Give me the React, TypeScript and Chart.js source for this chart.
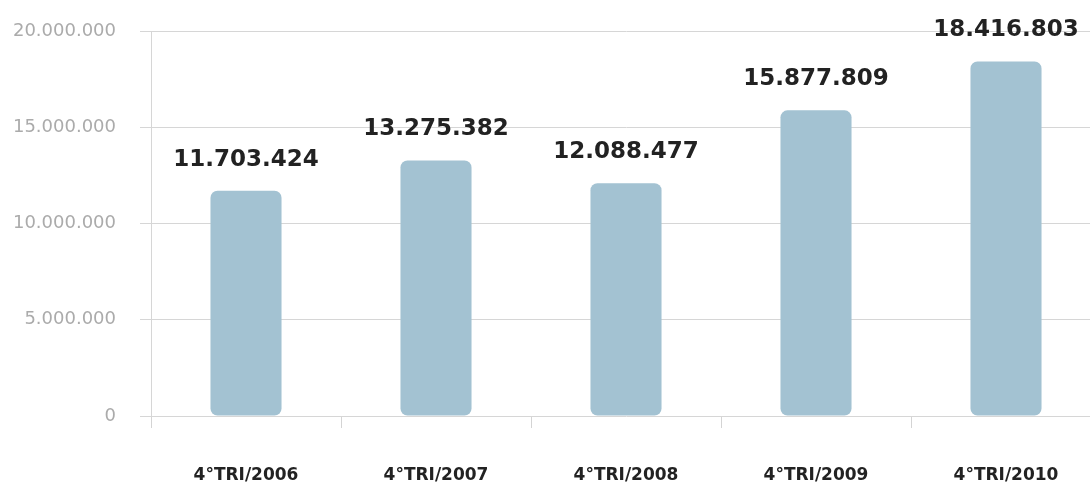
import React, { useEffect, useRef } from 'react';
import { Chart, registerables } from 'chart.js';

Chart.register(...registerables);

const categories = ['4°TRI/2006', '4°TRI/2007', '4°TRI/2008', '4°TRI/2009', '4°TRI/2010'];
const values = [11703424, 13275382, 12088477, 15877809, 18416803];
const yMin = 0;
const yMax = 20000000;
const yStep = 5000000;

const fmt = (v: number) => String(Math.round(v)).replace(/\B(?=(\d{3})+(?!\d))/g, '.');

const valueLabels = {
  id: 'valueLabels',
  afterDatasetsDraw(chart: any) {
    const ctx = chart.ctx;
    const meta = chart.getDatasetMeta(0);
    ctx.save();
    ctx.font = 'bold 23px "DejaVu Sans"';
    ctx.fillStyle = '#222222';
    ctx.textAlign = 'center';
    ctx.textBaseline = 'alphabetic';
    meta.data.forEach((bar: any, i: number) => {
      ctx.fillText(fmt(values[i]), bar.x, bar.y - 25);
    });
    ctx.restore();
  },
};

export default function App() {
  const ref = useRef<HTMLCanvasElement | null>(null);
  useEffect(() => {
    if (!ref.current) return;
    const chart = new Chart(ref.current, {
      type: 'bar',
      data: {
        labels: categories,
        datasets: [
          {
            data: values,
            backgroundColor: '#a3c2d2',
            borderRadius: 7,
            borderSkipped: false,
            categoryPercentage: 1,
            barPercentage: 0.374,
          },
        ],
      },
      options: {
        responsive: false,
        animation: false,
        devicePixelRatio: 1,
        layout: { padding: { top: 31, left: 0, right: 0, bottom: 0 } },
        plugins: { legend: { display: false }, tooltip: { enabled: false } },
        scales: {
          x: {
            type: 'category',
            offset: true,
            grid: {
              offset: true,
              drawOnChartArea: false,
              tickLength: 12,
              color: '#d4d4d4',
            },
            border: { display: false },
            ticks: {
              font: { family: '"DejaVu Sans"', size: 17, weight: 'bold' },
              color: '#222222',
              padding: 37,
              maxRotation: 0,
              autoSkip: false,
            },
            afterFit: (s: any) => {
              s.height = 69;
            },
          },
          y: {
            min: yMin,
            max: yMax,
            grid: { color: '#d6d6d6', tickLength: 11 },
            border: { display: true, color: '#d6d6d6' },
            ticks: {
              stepSize: yStep,
              padding: 24,
              color: '#ababab',
              font: { family: '"DejaVu Sans"', size: 18 },
              callback: (v: any) => fmt(Number(v)),
            },
            afterFit: (s: any) => {
              s.width = 151;
              s.paddingTop = 0;
              s.paddingBottom = 0;
            },
          },
        },
      },
      plugins: [valueLabels],
    });
    return () => chart.destroy();
  }, []);
  return (
    <div style={{ position: 'fixed', left: 0, top: 0, width: 1090, height: 485, overflow: 'hidden', background: '#fff' }}>
      <canvas ref={ref} width={1101} height={485} style={{ display: 'block' }} />
    </div>
  );
}
